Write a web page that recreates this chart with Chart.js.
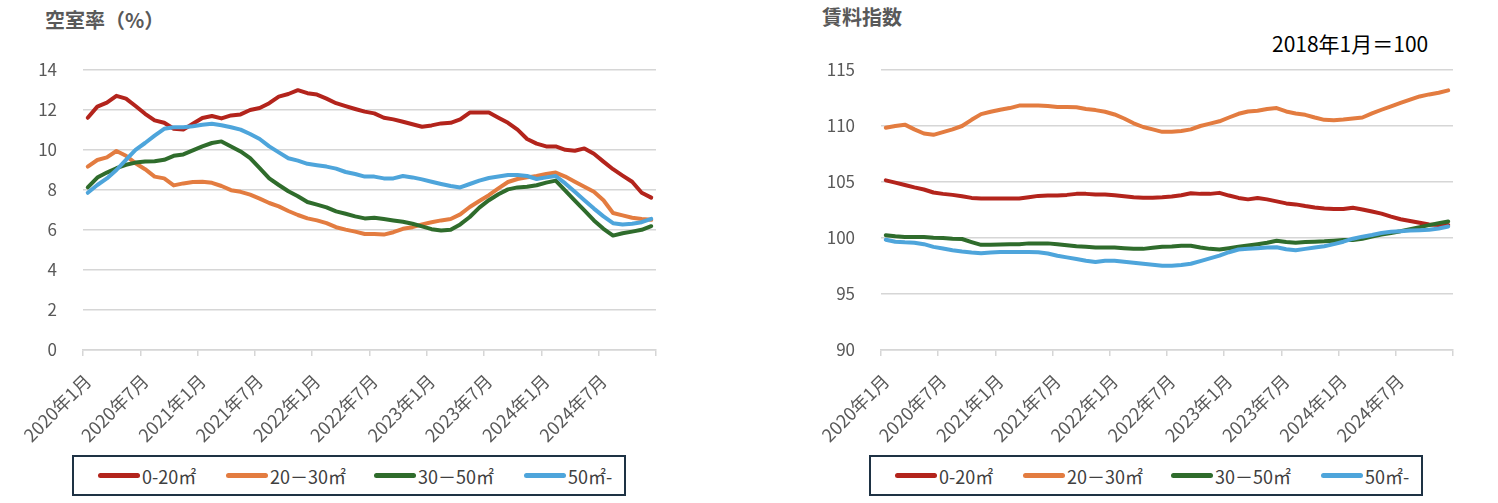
<!DOCTYPE html>
<html lang="ja">
<head>
<meta charset="utf-8">
<script src="https://cdn.jsdelivr.net/npm/chart.js@4.4.1/dist/chart.umd.min.js"></script>
<style>
  body { margin: 0; width: 1498px; height: 503px; background: #fff; position: relative; overflow: hidden;
         font-family: 'Noto Sans CJK JP', 'Noto Sans', sans-serif; }
  canvas { position: absolute; top: 0; }
  .title { position: absolute; line-height: 1; font-weight: bold; color: #595959; font-size: 20px; }
  .note { position: absolute; line-height: 1; color: #000; font-size: 21px; }
  .legend { position: absolute; top: 455px; width: 550px; height: 37px; border: 2px solid #1e3244; }
  .item { position: absolute; top: 0; height: 37px; display: flex; align-items: center;
          font-size: 18px; color: #404040; white-space: nowrap; }
  .item i { display: inline-block; width: 42px; height: 5px; border-radius: 3px; margin-right: 2px; }
</style>
</head>
<body>
<div class="title" style="left:45px; top:10px;">空室率（%）</div>
<div class="title" style="left:822px; top:7px;">賃料指数</div>
<div class="note" style="left:1272px; top:33px;">2018年1月＝100</div>

<canvas id="vacancy" width="700" height="450" style="left:0px;"></canvas>
<canvas id="rent" width="748" height="450" style="left:750px;"></canvas>

<div class="legend" id="legendL" style="left:72px;"></div>
<div class="legend" id="legendR" style="left:869px;"></div>

<script>
// 2020年1月 ～ 2024年12月 (月次)
const months = [];
for (let y = 2020; y <= 2024; y++) {
  for (let m = 1; m <= 12; m++) months.push(y + '年' + m + '月');
}

const seriesNames = ['0-20㎡', '20－30㎡', '30－50㎡', '50㎡-'];
const seriesColors = ['#b3241c', '#e37c40', '#2f6c2c', '#4ea5db'];

// 空室率（%）
const vacancy0_20 = [11.61,12.17,12.37,12.71,12.57,12.2,11.81,11.48,11.36,11.06,11.02,11.31,11.6,11.7,11.58,11.73,11.78,12.0,12.1,12.34,12.67,12.8,12.99,12.84,12.77,12.57,12.34,12.19,12.05,11.92,
  11.83,11.61,11.53,11.41,11.29,11.16,11.23,11.33,11.36,11.53,11.87,11.87,11.87,11.61,11.36,11.02,10.55,10.32,10.18,10.18,10.01,9.96,10.08,9.81,9.42,9.04,8.72,8.41,7.86,7.62];
const vacancy20_30 = [9.17,9.5,9.63,9.95,9.71,9.34,9.04,8.67,8.58,8.23,8.33,8.4,8.41,8.36,8.2,7.99,7.91,7.77,7.57,7.35,7.18,6.95,6.75,6.58,6.48,6.34,6.14,6.02,5.92,5.8,
  5.8,5.77,5.89,6.06,6.14,6.28,6.39,6.48,6.55,6.78,7.15,7.45,7.74,8.08,8.4,8.55,8.63,8.7,8.8,8.87,8.67,8.41,8.16,7.91,7.49,6.85,6.73,6.61,6.55,6.51];
const vacancy30_50 = [8.13,8.62,8.87,9.09,9.26,9.37,9.42,9.44,9.51,9.71,9.78,9.98,10.18,10.35,10.43,10.18,9.93,9.59,9.09,8.58,8.25,7.94,7.69,7.4,7.27,7.13,6.93,6.81,6.68,6.58,
  6.61,6.55,6.48,6.41,6.31,6.18,6.04,5.97,6.01,6.28,6.65,7.12,7.49,7.79,8.03,8.13,8.16,8.24,8.37,8.47,7.97,7.47,6.98,6.48,6.06,5.72,5.84,5.92,6.01,6.19];
const vacancy50 = [7.86,8.25,8.58,9.0,9.51,10.01,10.35,10.72,11.06,11.14,11.14,11.19,11.26,11.31,11.24,11.14,11.02,10.8,10.55,10.18,9.88,9.59,9.47,9.31,9.24,9.17,9.07,8.9,8.8,8.67,
  8.67,8.58,8.58,8.7,8.63,8.53,8.41,8.3,8.2,8.13,8.3,8.47,8.6,8.67,8.75,8.75,8.7,8.55,8.63,8.7,8.33,7.91,7.49,7.07,6.68,6.34,6.28,6.31,6.39,6.56];

// 賃料指数（2018年1月＝100）
const rent0_20 = [105.15,104.94,104.73,104.52,104.33,104.06,103.94,103.85,103.73,103.58,103.52,103.52,103.52,103.52,103.52,103.64,103.76,103.79,103.79,103.85,103.94,103.94,103.88,103.88,103.82,103.73,103.64,103.6,103.6,103.64,
  103.7,103.82,104.0,103.94,103.94,104.03,103.79,103.58,103.45,103.58,103.45,103.27,103.09,103.0,102.85,102.73,102.64,102.58,102.58,102.7,102.55,102.36,102.18,101.91,101.67,101.52,101.36,101.21,101.15,101.15];
const rent20_30 = [109.85,110.0,110.12,109.7,109.33,109.21,109.45,109.7,110.0,110.55,111.06,111.27,111.45,111.6,111.82,111.82,111.82,111.79,111.7,111.7,111.67,111.52,111.42,111.27,111.03,110.67,110.24,109.91,109.7,109.48,
  109.48,109.55,109.7,110.0,110.21,110.42,110.76,111.09,111.3,111.36,111.52,111.6,111.3,111.12,111.0,110.76,110.55,110.52,110.58,110.67,110.76,111.12,111.45,111.76,112.06,112.36,112.64,112.82,112.97,113.18];
const rent30_50 = [100.24,100.15,100.09,100.09,100.09,100.03,100.0,99.94,99.91,99.64,99.39,99.39,99.42,99.45,99.45,99.52,99.52,99.52,99.45,99.36,99.27,99.21,99.15,99.15,99.15,99.09,99.03,99.03,99.12,99.21,
  99.24,99.3,99.3,99.15,99.03,98.97,99.09,99.21,99.33,99.45,99.58,99.76,99.64,99.58,99.64,99.67,99.7,99.76,99.82,99.82,99.94,100.12,100.3,100.45,100.61,100.79,100.97,101.15,101.33,101.48];
const rent50 = [99.85,99.67,99.61,99.58,99.45,99.21,99.06,98.91,98.79,98.7,98.64,98.7,98.76,98.76,98.76,98.76,98.73,98.61,98.42,98.27,98.12,97.97,97.85,97.97,97.97,97.88,97.79,97.7,97.61,97.52,
  97.52,97.58,97.7,97.94,98.18,98.42,98.73,98.97,99.03,99.09,99.15,99.18,99.0,98.91,99.03,99.15,99.27,99.45,99.67,99.94,100.12,100.27,100.45,100.55,100.61,100.67,100.7,100.73,100.85,101.03];

const FONT = "'Noto Sans CJK JP', 'Noto Sans', sans-serif";
const GRID = '#d6d6d6';

function makeChart(id, seriesList, yMin, yMax, step, yWidth, padRight) {
  const datasets = seriesList.map((vals, k) => ({
    label: seriesNames[k],
    data: vals,
    borderColor: seriesColors[k],
    backgroundColor: seriesColors[k],
    borderWidth: 4,
    pointRadius: 0,
    tension: 0,
    borderCapStyle: 'round',
    borderJoinStyle: 'round',
    order: 4 - k  // 後の系列を上に描く
  }));

  return new Chart(document.getElementById(id), {
    type: 'line',
    data: { labels: months, datasets: datasets },
    options: {
      responsive: false,
      animation: false,
      layout: { padding: { left: 0, right: padRight, top: 70, bottom: 0 } },
      plugins: { legend: { display: false }, tooltip: { enabled: false } },
      scales: {
        x: {
          offset: true,
          grid: {
            offset: true,
            drawOnChartArea: false,
            drawTicks: true,
            tickLength: 6,
            lineWidth: 1.5,
            // 半年ごとの目盛りだけ表示
            color: (c) => (c.index === undefined || c.index % 6 === 0) ? GRID : 'rgba(0,0,0,0)'
          },
          border: { display: true, color: GRID, width: 1.5 },
          ticks: {
            autoSkip: false,
            maxRotation: 45,
            minRotation: 45,
            padding: 14,
            color: '#595959',
            font: { family: FONT, size: 18 },
            callback: (v, i) => i % 6 === 0 ? months[i] : ''
          },
          afterFit: (scale) => { scale.height = 100; }
        },
        y: {
          min: yMin,
          max: yMax,
          grid: { color: GRID, lineWidth: 1.5, drawTicks: false },
          border: { display: false },
          ticks: {
            stepSize: step,
            padding: 26,
            color: '#595959',
            font: { family: FONT, size: 17 }
          },
          afterFit: (scale) => { scale.width = yWidth; }
        }
      }
    }
  });
}

makeChart('vacancy', [vacancy0_20, vacancy20_30, vacancy30_50, vacancy50], 0, 14, 2, 83, 44);
makeChart('rent', [rent0_20, rent20_30, rent30_50, rent50], 90, 115, 5, 131, 45);

// 凡例（枠付き）
const itemLeft = [24, 152, 300, 450];
['legendL', 'legendR'].forEach((id) => {
  const box = document.getElementById(id);
  seriesNames.forEach((name, k) => {
    const el = document.createElement('div');
    el.className = 'item';
    el.style.left = itemLeft[k] + 'px';
    el.innerHTML = '<i style="background:' + seriesColors[k] + '"></i>' + name;
    box.appendChild(el);
  });
});
</script>
</body>
</html>
